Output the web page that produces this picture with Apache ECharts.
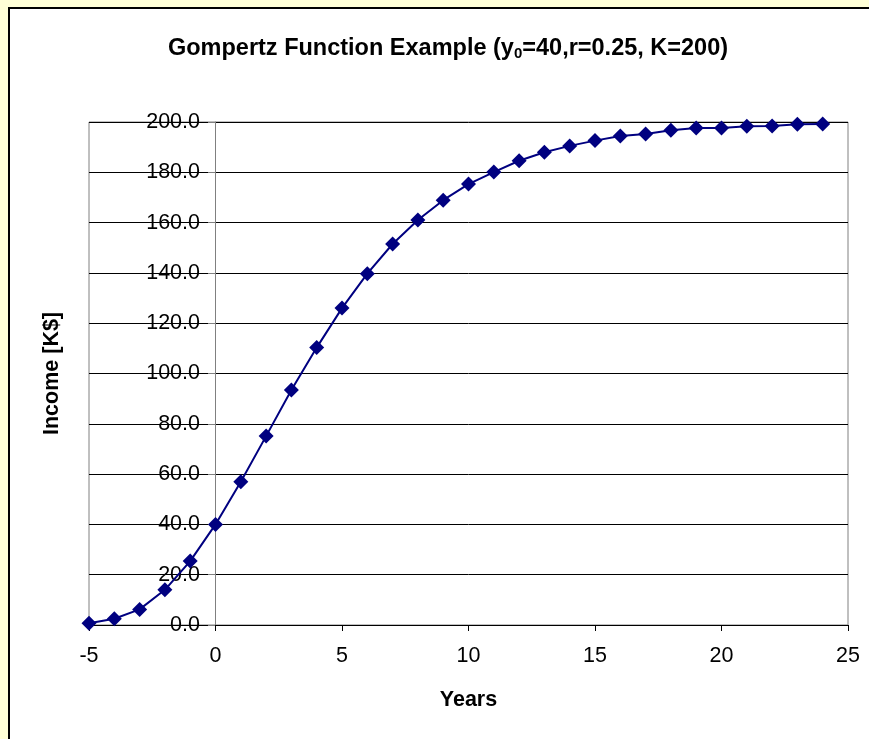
<!DOCTYPE html>
<html lang="en">
<head>
  <meta charset="UTF-8">
  <title>Gompertz Function Example</title>
  <style>
    html, body {
      margin: 0;
      padding: 0;
      background-color: #FFFFD7;
    }
    /* white chart sheet with a black edge on top and left */
    .sheet {
      position: absolute;
      left: 8px;
      top: 7px;
      width: 870px;
      height: 740px;
      background: #fff;
      border-left: 2px solid #000;
      border-top: 2px solid #000;
    }
    #chartContainer {
      position: absolute;
      left: 0;
      top: 0;
      width: 869px;
      height: 739px;
    }
  </style>
  <script src="https://cdn.jsdelivr.net/npm/echarts@6/dist/echarts.min.js"></script>
</head>
<body>
  <div class="sheet"></div>
  <div id="chartContainer"></div>

  <script>
    // years and income
    const years = [-5, -4, -3, -2, -1, 0, 1, 2, 3, 4, 5, 6, 7, 8, 9, 10, 11, 12, 13, 14, 15, 16, 17, 18, 19, 20, 21, 22, 23, 24];
    const income = [0.7, 2.5, 6.2, 14.0, 25.4, 40.0, 57.0, 75.1, 93.4, 110.3, 126.0, 139.7, 151.5, 161.0, 168.9, 175.3, 180.1, 184.6, 188.0, 190.5, 192.6, 194.4, 195.2, 196.7, 197.6, 197.6, 198.3, 198.4, 199.1, 199.2];

    const xTicks = { min: -5, max: 25, step: 5 };
    const yTicks = { min: 0, max: 200, step: 20 };

    const font = 'Liberation Sans, Arial, sans-serif';
    const navy = '#000080';

    const chart = echarts.init(document.getElementById('chartContainer'));

    const option = {
      backgroundColor: 'transparent',
      animation: false,
      title: {
        text: '{b|Gompertz Function Example (y}{s|0}{b|=40,r=0.25, K=200)}',
        left: 443,
        textAlign: 'center',
        top: 32,
        textStyle: {
          rich: {
            b: { fontFamily: font, fontWeight: 'bold', fontSize: 23.5, color: '#000' },
            s: { fontFamily: font, fontWeight: 'bold', fontSize: 15, color: '#000', verticalAlign: 'bottom', padding: [9, 0, 0, 0] }
          }
        }
      },
      grid: {
        left: 89,
        right: 21,
        top: 122,
        bottom: 114,
        outerBoundsMode: 'none',
        show: true,
        borderColor: '#808080',
        borderWidth: 1,
        backgroundColor: '#fff'
      },
      xAxis: {
        type: 'value',
        min: xTicks.min,
        max: xTicks.max,
        interval: xTicks.step,
        name: 'Years',
        nameLocation: 'middle',
        nameGap: 64,
        nameTextStyle: { fontFamily: font, fontWeight: 'bold', fontSize: 21.5, color: '#000' },
        axisLine: { onZero: false, lineStyle: { color: '#000', width: 1 } },
        axisTick: { show: true, length: 6, lineStyle: { color: '#000' } },
        axisLabel: { fontFamily: font, fontSize: 21.5, color: '#000', margin: 20 },
        splitLine: { show: false }
      },
      yAxis: {
        type: 'value',
        min: yTicks.min,
        max: yTicks.max,
        interval: yTicks.step,
        // the value axis crosses the x axis at year 0
        offset: -126,
        name: 'Income [K$]',
        nameLocation: 'middle',
        nameGap: 152,
        nameTextStyle: { fontFamily: font, fontWeight: 'bold', fontSize: 21.5, color: '#000' },
        axisLine: { onZero: false, lineStyle: { color: '#808080', width: 1 } },
        axisTick: { show: true, length: 7, lineStyle: { color: '#808080' } },
        axisLabel: {
          fontFamily: font,
          fontSize: 21.5,
          color: '#000',
          margin: 15,
          formatter: v => v.toFixed(1)
        },
        splitLine: { show: true, lineStyle: { color: '#000', width: 1 } }
      },
      series: [
        {
          type: 'line',
          data: years.map((y, i) => [y, income[i]]),
          symbol: 'diamond',
          symbolSize: 15,
          lineStyle: { color: navy, width: 2 },
          itemStyle: { color: navy },
          z: 5
        }
      ]
    };

    chart.setOption(option);
  </script>
</body>
</html>
